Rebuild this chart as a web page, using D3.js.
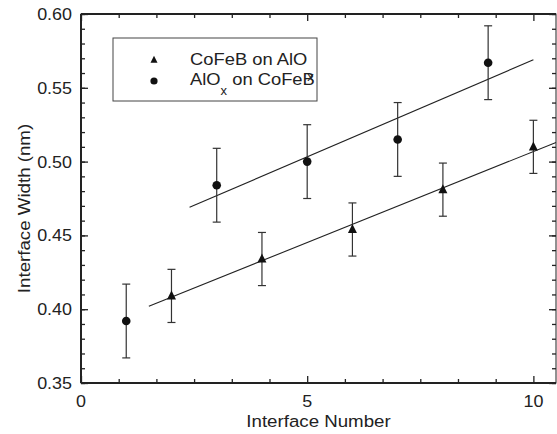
<!DOCTYPE html>
<html>
<head>
<meta charset="utf-8">
<script src="https://cdn.jsdelivr.net/npm/d3@7"></script>
<style>
  body { margin: 0; background: #fff; }
  text { font-family: "Liberation Sans", Arial, sans-serif; fill: #222; }
</style>
</head>
<body>
<script>
// data
var triX = [2, 4, 6, 8, 10];
var triY = [0.409, 0.434, 0.454, 0.481, 0.510];
var triErr = [0.018, 0.018, 0.018, 0.018, 0.018];

var cirX = [1, 3, 5, 7, 9];
var cirY = [0.392, 0.484, 0.500, 0.515, 0.567];
var cirErr = [0.025, 0.025, 0.025, 0.025, 0.025];

// linear fits (end points)
var triFitX = [1.5, 10.5], triFitY = [0.402, 0.513];
var cirFitX = [2.4, 10.0], cirFitY = [0.469, 0.569];

var xTicks = [0, 5, 10];
var yTicks = [0.35, 0.40, 0.45, 0.50, 0.55, 0.60];

var W = 557, H = 434;
var m = {top: 14, right: 1, bottom: 51, left: 81};
var w = W - m.left - m.right, h = H - m.top - m.bottom;

var svg = d3.select('body').append('svg').attr('width', W).attr('height', H);
var g = svg.append('g').attr('transform', 'translate(' + m.left + ',' + m.top + ')');

var x = d3.scaleLinear().domain([0, 10.5]).range([0, w]);
var y = d3.scaleLinear().domain([0.35, 0.60]).range([h, 0]);

var ink = '#222';

// minor ticks
var xMinor = d3.range(0, 10.51, 5 / 6).filter(function(d){ return Math.abs(d / 5 - Math.round(d / 5)) > 0.01; });
var yMinor = d3.range(0.35, 0.6001, 0.01);

function ticks(axis, vals, size, tr) {
  var a = g.append('g').attr('transform', tr || null)
    .call(axis.tickValues(vals).tickSize(size).tickFormat(''));
  a.select('.domain').remove();
  a.selectAll('line').attr('stroke', ink).attr('stroke-width', 1.3);
}
// bottom/top/left/right, ticks pointing inward
ticks(d3.axisTop(x), xMinor, 4, 'translate(0,' + h + ')');
ticks(d3.axisTop(x), xTicks, 7, 'translate(0,' + h + ')');
ticks(d3.axisBottom(x), xMinor, 4);
ticks(d3.axisBottom(x), xTicks, 7);
ticks(d3.axisRight(y), yMinor, 4);
ticks(d3.axisRight(y), yTicks, 7);
ticks(d3.axisLeft(y), yMinor, 4, 'translate(' + w + ',0)');
ticks(d3.axisLeft(y), yTicks, 7, 'translate(' + w + ',0)');

// frame
g.append('rect').attr('width', w).attr('height', h)
  .attr('fill', 'none').attr('stroke', ink).attr('stroke-width', 1);
g.append('line').attr('x1', 0).attr('x2', w).attr('y1', h).attr('y2', h)
  .attr('stroke', ink).attr('stroke-width', 2);
g.append('line').attr('x1', 0).attr('x2', 0).attr('y1', 0).attr('y2', h)
  .attr('stroke', ink).attr('stroke-width', 2);
g.append('line').attr('x1', 0).attr('x2', w).attr('y1', 0).attr('y2', 0)
  .attr('stroke', ink).attr('stroke-width', 2);

// tick labels
g.selectAll('.xl').data(xTicks).enter().append('text')
  .attr('transform', function(d){ return 'translate(' + x(d) + ',' + (h + 24) + ') scale(1.12,1)'; })
  .attr('text-anchor', 'middle').style('font-size', '16px')
  .text(function(d){ return d; });
g.selectAll('.yl').data(yTicks).enter().append('text')
  .attr('transform', function(d){ return 'translate(-9,' + (y(d) + 6) + ') scale(1.12,1)'; })
  .attr('text-anchor', 'end').style('font-size', '16px')
  .text(function(d){ return d.toFixed(2); });

// axis titles
g.append('text').attr('transform', 'translate(' + (w / 2) + ',' + (h + 44) + ') scale(1.1,1)')
  .attr('text-anchor', 'middle').style('font-size', '17px').text('Interface Number');
g.append('text').attr('transform', 'translate(-51,' + (h / 2 + 10) + ') rotate(-90) scale(1.1,1)')
  .attr('text-anchor', 'middle').style('font-size', '17px').text('Interface Width (nm)');

// fit lines
var line = d3.line().x(function(d){ return x(d[0]); }).y(function(d){ return y(d[1]); });
g.append('path').datum(d3.zip(triFitX, triFitY)).attr('d', line)
  .attr('fill', 'none').attr('stroke', ink).attr('stroke-width', 1.1);
g.append('path').datum(d3.zip(cirFitX, cirFitY)).attr('d', line)
  .attr('fill', 'none').attr('stroke', ink).attr('stroke-width', 1.1);

// error bars
function errBars(xs, ys, es) {
  var d = d3.zip(xs, ys, es);
  var e = g.append('g').attr('stroke', '#333').attr('stroke-width', 1.2);
  e.selectAll('.v').data(d).enter().append('line')
    .attr('x1', function(d){ return x(d[0]); }).attr('x2', function(d){ return x(d[0]); })
    .attr('y1', function(d){ return y(d[1] - d[2]); }).attr('y2', function(d){ return y(d[1] + d[2]); });
  [-1, 1].forEach(function(s){
    e.selectAll('.c' + s).data(d).enter().append('line')
      .attr('x1', function(d){ return x(d[0]) - 4; }).attr('x2', function(d){ return x(d[0]) + 4; })
      .attr('y1', function(d){ return y(d[1] + s * d[2]); }).attr('y2', function(d){ return y(d[1] + s * d[2]); });
  });
}
errBars(triX, triY, triErr);
errBars(cirX, cirY, cirErr);

// markers
function tri(cx, cy, s) {
  return 'M' + cx + ',' + (cy - s * 0.6) + 'L' + (cx + s / 2) + ',' + (cy + s * 0.4) +
    'L' + (cx - s / 2) + ',' + (cy + s * 0.4) + 'Z';
}
g.selectAll('.tri').data(d3.zip(triX, triY)).enter().append('path')
  .attr('d', function(d){ return tri(x(d[0]), y(d[1]), 9); }).attr('fill', '#111');
g.selectAll('.cir').data(d3.zip(cirX, cirY)).enter().append('circle')
  .attr('cx', function(d){ return x(d[0]); }).attr('cy', function(d){ return y(d[1]); })
  .attr('r', 4.3).attr('fill', '#111');

// legend
var lg = svg.append('g').attr('transform', 'translate(113,38)');
lg.append('rect').attr('width', 204).attr('height', 63)
  .attr('fill', '#fff').attr('stroke', '#444').attr('stroke-width', 1);
lg.append('path').attr('d', tri(41, 22, 7)).attr('fill', '#111');
lg.append('circle').attr('cx', 41).attr('cy', 43).attr('r', 3.6).attr('fill', '#111');
var t1 = lg.append('text').attr('transform', 'translate(77,27) scale(1.08,1)').style('font-size', '17px');
t1.append('tspan').text('CoFeB on AlO');
t1.append('tspan').attr('dy', 16).style('font-size', '12px').text('x');
var t2 = lg.append('text').attr('transform', 'translate(77,47) scale(1.08,1)').style('font-size', '17px');
t2.append('tspan').text('AlO');
t2.append('tspan').attr('dy', 10).style('font-size', '12px').text('x');
t2.append('tspan').attr('dy', -10).text(' on CoFeB');
</script>
</body>
</html>
